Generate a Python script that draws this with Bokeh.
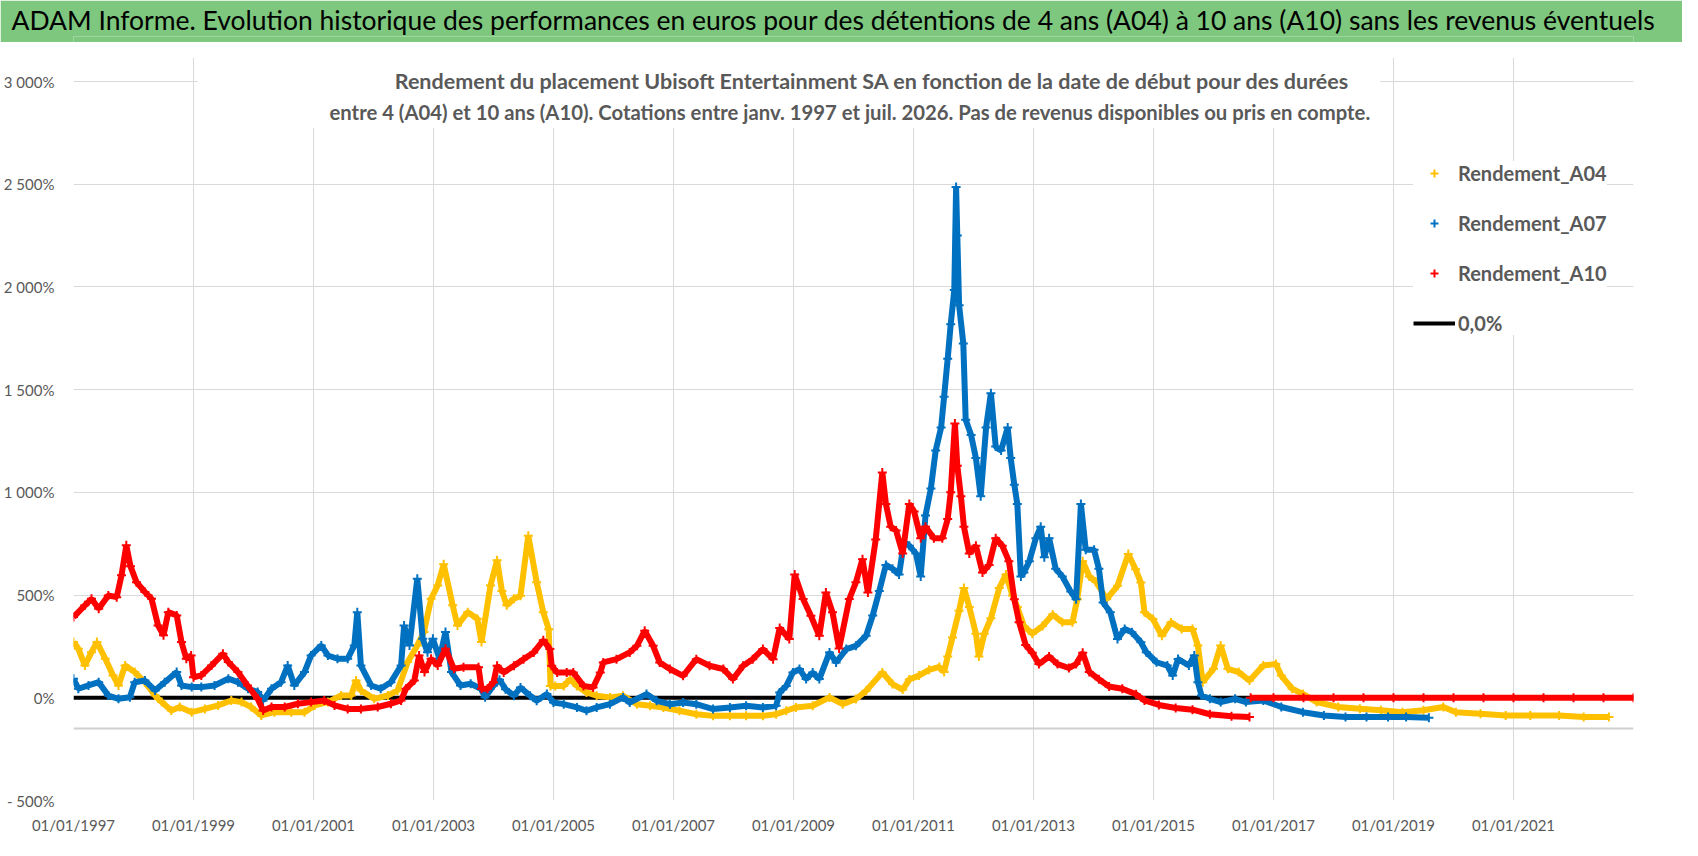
from bokeh.plotting import figure
from bokeh.layouts import column
from bokeh.models import Range1d, FixedTicker, Label, Legend, LegendItem, BoxAnnotation, Span, Title
from bokeh.embed import file_html
from bokeh.resources import INLINE

# dates de debut (annee decimale) et rendements en %
annees_a04 = [1997.00, 1997.08, 1997.19, 1997.30, 1997.39, 1997.53, 1997.66, 1997.75, 1997.86, 1998.02,
              1998.19, 1998.36, 1998.47, 1998.63, 1998.77, 1998.97, 1999.19, 1999.41, 1999.63, 1999.80,
              1999.96, 2000.13, 2000.35, 2000.63, 2000.85, 2001.02, 2001.24, 2001.46, 2001.63, 2001.71,
              2001.79, 2002.01, 2002.24, 2002.40, 2002.57, 2002.73, 2002.84, 2002.96, 2003.07, 2003.17,
              2003.32, 2003.40, 2003.57, 2003.73, 2003.80, 2003.95, 2004.06, 2004.14, 2004.22, 2004.34,
              2004.45, 2004.58, 2004.72, 2004.83, 2004.92, 2004.95, 2005.03, 2005.17, 2005.28, 2005.39,
              2005.55, 2005.72, 2005.94, 2006.16, 2006.39, 2006.61, 2006.83, 2007.10, 2007.38, 2007.66,
              2007.94, 2008.21, 2008.49, 2008.71, 2008.88, 2009.04, 2009.32, 2009.60, 2009.82, 2010.04,
              2010.21, 2010.48, 2010.65, 2010.82, 2010.93, 2011.09, 2011.26, 2011.43, 2011.51, 2011.57,
              2011.65, 2011.76, 2011.84, 2011.93, 2012.04, 2012.09, 2012.18, 2012.29, 2012.43, 2012.54,
              2012.65, 2012.73, 2012.84, 2012.98, 2013.15, 2013.32, 2013.48, 2013.65, 2013.73, 2013.82,
              2013.93, 2014.04, 2014.22, 2014.40, 2014.58, 2014.70, 2014.79, 2014.85, 2014.99, 2015.14,
              2015.29, 2015.47, 2015.65, 2015.74, 2015.82, 2016.00, 2016.12, 2016.24, 2016.42, 2016.60,
              2016.83, 2017.04, 2017.13, 2017.31, 2017.49, 2017.72, 2018.08, 2018.44, 2018.79, 2019.15,
              2019.50, 2019.83, 2020.04, 2020.45, 2020.87, 2021.28, 2021.76, 2022.17, 2022.59]
rendement_a04 = [271, 239, 157, 222, 271, 190, 109, 60, 157, 125,
                 76, 11, -21, -62, -45, -70, -54, -37, -13, -21,
                 -45, -86, -70, -70, -70, -37, -21, 11, 11, 84,
                 36, -5, 11, 36, 174, 255, 320, 482, 547, 650,
                 450, 352, 417, 385, 271, 547, 670, 520, 450, 482,
                 497, 789, 562, 416, 334, 58, 58, 58, 91, 58,
                 26, 10, 2, 10, -31, -39, -47, -63, -80, -88,
                 -88, -88, -88, -80, -63, -47, -39, 2, -31, -6,
                 34, 123, 67, 40, 89, 108, 136, 150, 126, 201,
                 294, 424, 535, 442, 312, 201, 312, 387, 535, 600,
                 498, 442, 349, 312, 349, 405, 368, 368, 480, 665,
                 591, 565, 481, 545, 700, 626, 561, 416, 383, 302,
                 367, 335, 335, 254, 76, 141, 254, 141, 125, 84,
                 157, 165, 108, 44, 19, -21, -45, -53, -61, -70,
                 -61, -45, -70, -78, -86, -86, -86, -94, -94]

annees_a07 = [1997.00, 1997.08, 1997.25, 1997.42, 1997.58, 1997.75, 1997.94, 1998.02, 1998.19, 1998.36,
              1998.52, 1998.72, 1998.80, 1998.97, 1999.13, 1999.35, 1999.58, 1999.74, 1999.91, 2000.07,
              2000.16, 2000.30, 2000.46, 2000.57, 2000.68, 2000.85, 2000.96, 2001.13, 2001.24, 2001.40,
              2001.57, 2001.68, 2001.73, 2001.79, 2001.96, 2002.12, 2002.29, 2002.46, 2002.51, 2002.60,
              2002.73, 2002.82, 2002.90, 2002.99, 2003.10, 2003.20, 2003.30, 2003.45, 2003.62, 2003.79,
              2003.86, 2004.00, 2004.10, 2004.20, 2004.34, 2004.45, 2004.61, 2004.72, 2004.89, 2005.00,
              2005.17, 2005.39, 2005.55, 2005.72, 2005.94, 2006.16, 2006.27, 2006.55, 2006.72, 2006.94,
              2007.16, 2007.38, 2007.66, 2007.94, 2008.21, 2008.49, 2008.71, 2008.77, 2008.88, 2008.99,
              2009.10, 2009.21, 2009.32, 2009.43, 2009.60, 2009.71, 2009.88, 2010.04, 2010.21, 2010.32,
              2010.43, 2010.54, 2010.65, 2010.76, 2010.84, 2010.93, 2011.04, 2011.12, 2011.20, 2011.29,
              2011.37, 2011.46, 2011.51, 2011.57, 2011.62, 2011.68, 2011.71, 2011.73, 2011.76, 2011.83,
              2011.87, 2011.96, 2012.04, 2012.12, 2012.21, 2012.29, 2012.37, 2012.46, 2012.57, 2012.62,
              2012.68, 2012.73, 2012.79, 2012.84, 2012.93, 2013.04, 2013.12, 2013.18, 2013.26, 2013.37,
              2013.48, 2013.62, 2013.71, 2013.79, 2013.87, 2014.01, 2014.09, 2014.16, 2014.28, 2014.40,
              2014.52, 2014.64, 2014.79, 2014.88, 2015.05, 2015.23, 2015.32, 2015.41, 2015.59, 2015.68,
              2015.74, 2015.80, 2015.94, 2016.12, 2016.36, 2016.54, 2016.83, 2017.13, 2017.49, 2017.84,
              2018.20, 2018.55, 2018.91, 2019.21, 2019.59]
rendement_a07 = [93, 44, 60, 76, 11, -5, 3, 76, 84, 36,
                 76, 125, 60, 52, 52, 60, 93, 76, 44, 28,
                 -13, 44, 76, 157, 60, 125, 206, 255, 206, 190,
                 190, 255, 417, 157, 60, 44, 76, 157, 352, 255,
                 580, 287, 222, 287, 190, 320, 125, 60, 68, 44,
                 3, 60, 88, 42, 10, 50, 10, -15, 18, -23,
                 -31, -47, -63, -47, -31, 2, -23, 18, -15, -31,
                 -23, -31, -55, -47, -39, -47, -39, 26, 58, 123,
                 140, 91, 123, 91, 221, 172, 237, 253, 302, 400,
                 520, 647, 628, 600, 758, 740, 703, 591, 888, 1019,
                 1204, 1316, 1465, 1651, 1818, 1985, 2487, 2250, 1911, 1725,
                 1353, 1279, 1167, 981, 1316, 1483, 1223, 1204, 1316, 1167,
                 1037, 944, 591, 610, 665, 777, 833, 684, 777, 628,
                 591, 517, 480, 944, 721, 721, 628, 464, 416, 286,
                 335, 319, 270, 222, 173, 157, 108, 189, 157, 206,
                 76, 11, -5, -21, -5, -21, -13, -45, -70, -86,
                 -94, -94, -94, -94, -97]

annees_a10 = [1997.00, 1997.19, 1997.30, 1997.42, 1997.58, 1997.72, 1997.80, 1997.88, 1997.95, 1998.05,
              1998.19, 1998.30, 1998.41, 1998.50, 1998.58, 1998.72, 1998.80, 1998.88, 1998.96, 1999.00,
              1999.13, 1999.30, 1999.49, 1999.58, 1999.74, 1999.90, 2000.07, 2000.16, 2000.30, 2000.52,
              2000.74, 2000.96, 2001.18, 2001.35, 2001.57, 2001.79, 2002.07, 2002.29, 2002.46, 2002.54,
              2002.68, 2002.76, 2002.85, 2002.96, 2003.07, 2003.20, 2003.34, 2003.50, 2003.75, 2003.80,
              2003.90, 2004.00, 2004.06, 2004.17, 2004.34, 2004.50, 2004.67, 2004.83, 2004.94, 2004.97,
              2005.06, 2005.22, 2005.33, 2005.50, 2005.66, 2005.78, 2005.83, 2006.05, 2006.27, 2006.39,
              2006.52, 2006.66, 2006.77, 2006.94, 2007.16, 2007.38, 2007.60, 2007.83, 2007.99, 2008.16,
              2008.32, 2008.49, 2008.66, 2008.77, 2008.93, 2009.02, 2009.16, 2009.29, 2009.43, 2009.54,
              2009.65, 2009.76, 2009.93, 2010.04, 2010.15, 2010.24, 2010.37, 2010.48, 2010.54, 2010.62,
              2010.71, 2010.82, 2010.93, 2011.01, 2011.12, 2011.20, 2011.34, 2011.48, 2011.57, 2011.62,
              2011.69, 2011.73, 2011.79, 2011.84, 2011.93, 2012.04, 2012.15, 2012.26, 2012.37, 2012.48,
              2012.59, 2012.68, 2012.76, 2012.87, 2012.98, 2013.09, 2013.26, 2013.40, 2013.59, 2013.71,
              2013.82, 2013.93, 2014.09, 2014.26, 2014.48, 2014.71, 2014.85, 2015.09, 2015.37, 2015.65,
              2015.94, 2016.30, 2016.60]
rendement_a10 = [393, 450, 482, 433, 498, 490, 596, 742, 640, 563,
                 515, 482, 352, 304, 417, 401, 271, 190, 206, 100,
                 109, 157, 214, 174, 125, 60, -5, -62, -45, -45,
                 -29, -21, -13, -37, -54, -54, -45, -29, -13, 44,
                 84, 206, 125, 190, 157, 239, 141, 149, 149, 44,
                 44, 76, 156, 123, 156, 188, 221, 280, 237, 156,
                 123, 123, 123, 58, 50, 123, 172, 188, 221, 253,
                 326, 253, 172, 140, 107, 188, 156, 140, 91, 156,
                 188, 237, 188, 340, 286, 600, 481, 399, 302, 513,
                 416, 240, 481, 562, 675, 513, 770, 1097, 944, 833,
                 814, 703, 944, 907, 777, 833, 777, 777, 870, 1000,
                 1335, 1130, 981, 833, 703, 740, 610, 647, 777, 740,
                 665, 480, 368, 257, 219, 164, 201, 164, 145, 164,
                 219, 126, 90, 55, 44, 17, -13, -35, -50, -58,
                 -80, -90, -94]

# apres mi-2016 la duree A10 depasse les cotations : valeurs a 0
annees_a10_nul = [2016.62, 2017.0, 2017.5, 2018.0, 2018.5, 2019.0, 2019.5, 2020.0,
                  2020.5, 2021.0, 2021.5, 2022.0, 2022.5, 2023.0]
rendement_a10_nul = [0, 0, 0, 0, 0, 0, 0, 0, 0, 0, 0, 0, 0, 0]

ligne_zero_x = [1997.0, 2023.0]
ligne_zero_y = [0, 0]

ticks_x = [1997, 1999, 2001, 2003, 2005, 2007, 2009, 2011, 2013, 2015, 2017, 2019, 2021]
etiquettes_x = ["01/01/1997", "01/01/1999", "01/01/2001", "01/01/2003", "01/01/2005",
                "01/01/2007", "01/01/2009", "01/01/2011", "01/01/2013", "01/01/2015",
                "01/01/2017", "01/01/2019", "01/01/2021"]
ticks_y = [-500, 0, 500, 1000, 1500, 2000, 2500, 3000]
etiquettes_y = ["- 500%", "0%", "500%", "1 000%", "1 500%", "2 000%", "2 500%", "3 000%"]
croisement_axe_x = -150

titre = ("ADAM Informe. Evolution historique des performances en euros pour des détentions "
         "de 4 ans (A04) à 10 ans (A10) sans les revenus éventuels")
sous_titre_1 = "Rendement du placement Ubisoft Entertainment SA en fonction de la date de début pour des durées"
sous_titre_2 = ("entre 4 (A04) et 10 ans (A10).  Cotations entre janv. 1997 et juil. 2026. "
                "Pas de revenus disponibles ou pris en compte.")

JAUNE = "#FFC000"
BLEU = "#0070C0"
ROUGE = "#FF0000"
GRIS = "#595959"
VERT = "#7EC77E"
POLICE = "Lato"

# bandeau vert du titre (le cadre est aligne sur celui du graphique, d'ou l'offset)
entete = figure(width=1682, height=42, x_range=(0, 1), y_range=(0, 1),
                toolbar_location=None, output_backend="svg",
                x_axis_location=None, y_axis_location=None, min_border=0, min_border_top=5)
entete.grid.visible = False
entete.background_fill_color = VERT
entete.border_fill_color = VERT
entete.outline_line_color = None
entete.title = Title(text=titre, align="left", offset=-62, standoff=2,
                     text_font=POLICE, text_font_size="26.5px", text_font_style="normal",
                     text_color="black")

p = figure(width=1682, height=800, toolbar_location=None, output_backend="svg", title=None,
           x_range=Range1d(1997.0, 2023.0), y_range=Range1d(-500, 3117),
           min_border_left=67, min_border_right=49, min_border_top=15, min_border_bottom=42)
p.outline_line_color = None
p.background_fill_color = "white"
p.border_fill_color = "white"

p.xaxis.ticker = FixedTicker(ticks=ticks_x)
p.yaxis.ticker = FixedTicker(ticks=ticks_y)
p.xaxis.major_label_overrides = dict(zip(ticks_x, etiquettes_x))
p.yaxis.major_label_overrides = dict(zip(ticks_y, etiquettes_y))
for ax in (p.xaxis, p.yaxis):
    ax.axis_line_color = None
    ax.major_tick_line_color = None
    ax.minor_tick_line_color = None
    ax.major_label_text_color = GRIS
    ax.major_label_text_font = POLICE
    ax.major_label_text_font_size = "15px"
p.xaxis.major_label_standoff = 9
p.yaxis.major_label_standoff = 13
p.grid.grid_line_color = "#d9d9d9"
p.grid.grid_line_width = 1

p.add_layout(Span(location=croisement_axe_x, dimension="width", line_color="#cfcfcf", line_width=2))

zero = p.line(ligne_zero_x, ligne_zero_y, line_color="black", line_width=4)

p.line(annees_a04, rendement_a04, line_color=JAUNE, line_width=6)
r04 = p.scatter(annees_a04, rendement_a04, marker="cross", size=9, line_width=2, line_color=JAUNE)
p.line(annees_a07, rendement_a07, line_color=BLEU, line_width=6)
r07 = p.scatter(annees_a07, rendement_a07, marker="cross", size=9, line_width=2, line_color=BLEU)
p.line(annees_a10, rendement_a10, line_color=ROUGE, line_width=6)
r10 = p.scatter(annees_a10, rendement_a10, marker="cross", size=9, line_width=2, line_color=ROUGE)
p.line(annees_a10_nul, rendement_a10_nul, line_color=ROUGE, line_width=6)
p.scatter(annees_a10_nul, rendement_a10_nul, marker="cross", size=9, line_width=2, line_color=ROUGE)

# sous-titre sur fond blanc, par dessus la grille
p.add_layout(BoxAnnotation(left=1999.07, right=2018.78, bottom=2775, top=3200,
                           fill_color="white", fill_alpha=1, line_color=None))
for txt, xx, yy, taille in ((sous_titre_1, 2010.31, 3004, "21.5px"),
                            (sous_titre_2, 2009.98, 2853, "20.3px")):
    p.add_layout(Label(x=xx, y=yy, text=txt, text_align="center", text_baseline="middle",
                       text_font=POLICE, text_font_size=taille, text_font_style="bold",
                       text_color=GRIS))

legende = Legend(items=[LegendItem(label="Rendement_A04", renderers=[r04]),
                        LegendItem(label="Rendement_A07", renderers=[r07]),
                        LegendItem(label="Rendement_A10", renderers=[r10]),
                        LegendItem(label="0,0%", renderers=[zero])],
                 location=(1340, 465), glyph_width=42, glyph_height=20, label_height=20,
                 label_standoff=3, spacing=26, padding=10, margin=0,
                 label_text_font=POLICE, label_text_font_size="20px", label_text_font_style="bold",
                 label_text_color=GRIS, border_line_color=None, background_fill_color="white",
                 background_fill_alpha=1)
p.add_layout(legende)

page = column(entete, p, spacing=0)
open("out.html", "w").write(file_html(page, INLINE))
